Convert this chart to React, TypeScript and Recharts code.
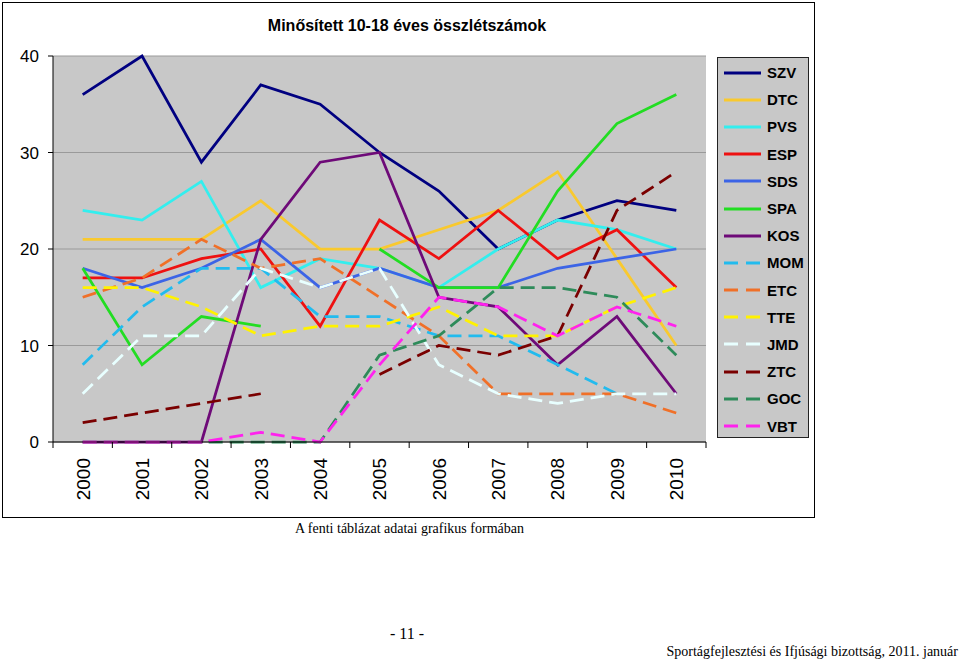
import React from "react";
import { LineChart, Line, XAxis, YAxis, CartesianGrid } from "recharts";

const years = ["2000", "2001", "2002", "2003", "2004", "2005", "2006", "2007", "2008", "2009", "2010"];
const yTicks = [0, 10, 20, 30, 40];

const szv = [36, 40, 29, 37, 35, 30, 26, 20, 23, 25, 24];
const dtc = [21, 21, 21, 25, 20, 20, 22, 24, 28, 19, 10];
const pvs = [24, 23, 27, 16, 19, 18, 16, 20, 23, 22, 20];
const esp = [17, 17, 19, 20, 12, 23, 19, 24, 19, 22, 16];
const sds = [18, 16, 18, 21, 16, 18, 16, 16, 18, 19, 20];
const spa = [18, 8, 13, 12, null, 20, 16, 16, 26, 33, 36];
const kos = [0, 0, 0, 21, 29, 30, 15, 14, 8, 13, 5];
const mom = [8, 14, 18, 18, 13, 13, 11, 11, 8, 5, null];
const etc = [15, 17, 21, 18, 19, 15, 11, 5, 5, 5, 3];
const tte = [16, 16, 14, 11, 12, 12, 14, 11, 11, 14, 16];
const jmd = [5, 11, 11, 18, 16, 18, 8, 5, 4, 5, 5];
const ztc = [2, 3, 4, 5, null, 7, 10, 9, 11, 24, 28];
const goc = [0, 0, 0, 0, 0, 9, 11, 16, 16, 15, 9];
const vbt = [0, 0, 0, 1, 0, 8, 15, 14, 11, 14, 12];

const series = [
  { key: "SZV", values: szv, color: "#000080", dashed: false },
  { key: "DTC", values: dtc, color: "#F9C92E", dashed: false },
  { key: "PVS", values: pvs, color: "#33EEEE", dashed: false },
  { key: "ESP", values: esp, color: "#EE1111", dashed: false },
  { key: "SDS", values: sds, color: "#3C64E6", dashed: false },
  { key: "SPA", values: spa, color: "#22DD22", dashed: false },
  { key: "KOS", values: kos, color: "#6E0A78", dashed: false },
  { key: "MOM", values: mom, color: "#22BBEE", dashed: true },
  { key: "ETC", values: etc, color: "#F07028", dashed: true },
  { key: "TTE", values: tte, color: "#FFF200", dashed: true },
  { key: "JMD", values: jmd, color: "#E8FFFF", dashed: true },
  { key: "ZTC", values: ztc, color: "#7A0000", dashed: true },
  { key: "GOC", values: goc, color: "#2E8B5A", dashed: true },
  { key: "VBT", values: vbt, color: "#FF22EE", dashed: true },
];

const data = years.map((year, i) => {
  const row: Record<string, string | number | null> = { year };
  series.forEach((s) => {
    row[s.key] = s.values[i];
  });
  return row;
});

const CHART_W = 810;
const CHART_H = 513;
const margin = { top: 53, right: 107, left: 10, bottom: 10 };
const Y_W = 40;
const X_H = 64;
const BAND = (CHART_W - margin.left - Y_W - margin.right) / years.length;

const sans = "'Liberation Sans', Arial, sans-serif";
const serif = "'Liberation Serif', 'Times New Roman', serif";

function YearTick(props: any) {
  const { x, y, payload, index } = props;
  const half = BAND / 2;
  return (
    <g>
      <line x1={x - half} x2={x - half} y1={y} y2={y + 6} stroke="#000" strokeWidth={1} />
      {index === years.length - 1 && (
        <line x1={x + half} x2={x + half} y1={y} y2={y + 6} stroke="#000" strokeWidth={1} />
      )}
      <g transform={`translate(${x},${y + 16}) rotate(-90)`}>
        <text textAnchor="end" dy="0.36em" fontSize={19} fill="#000" fontFamily={sans}>
          {payload.value}
        </text>
      </g>
    </g>
  );
}

function ChartLegend() {
  return (
    <div
      style={{
        position: "absolute",
        left: 714,
        top: 54,
        width: 92,
        height: 381,
        boxSizing: "border-box",
        border: "1px solid #222",
        background: "#C8C8C8",
        paddingTop: 1,
      }}
    >
      {series.map((s) => (
        <div key={s.key} style={{ height: 27.2, display: "flex", alignItems: "center" }}>
          <svg width={37} height={6} style={{ marginLeft: 6, marginRight: 6 }}>
            <line
              x1={0}
              x2={37}
              y1={3}
              y2={3}
              stroke={s.color}
              strokeWidth={3}
              strokeDasharray={s.dashed ? "14 8" : undefined}
            />
          </svg>
          <span style={{ fontFamily: sans, fontWeight: "bold", fontSize: 15, color: "#000" }}>{s.key}</span>
        </div>
      ))}
    </div>
  );
}

export default function App() {
  return (
    <div style={{ position: "absolute", left: 0, top: 0, width: 960, height: 661, background: "#fff" }}>
      <div
        style={{
          position: "absolute",
          left: 2,
          top: 2,
          width: 813,
          height: 516,
          boxSizing: "border-box",
          border: "1px solid #000",
        }}
      >
        <div
          style={{
            position: "absolute",
            left: 0,
            top: 14,
            width: 810,
            textAlign: "center",
            fontFamily: sans,
            fontWeight: "bold",
            fontSize: 16,
            color: "#000",
          }}
        >
          <span style={{ position: "relative", left: -1 }}>Minősített 10-18 éves összlétszámok</span>
        </div>
        <div style={{ position: "absolute", left: 0, top: 0 }}>
          <LineChart width={CHART_W} height={CHART_H} data={data} margin={margin}>
            <CartesianGrid vertical={false} fill="#C8C8C8" stroke="#9A9A9A" strokeWidth={1} />
            <XAxis
              dataKey="year"
              height={X_H}
              interval={0}
              padding={{ left: BAND / 2, right: BAND / 2 }}
              tickLine={false}
              tickSize={0}
              tickMargin={0}
              axisLine={{ stroke: "#000" }}
              tick={<YearTick />}
            />
            <YAxis
              width={Y_W}
              domain={[0, 40]}
              ticks={yTicks}
              interval={0}
              tickSize={5}
              tickMargin={9}
              axisLine={{ stroke: "#000" }}
              tickLine={{ stroke: "#000" }}
              tick={{ fill: "#000", fontSize: 17, fontFamily: sans }}
            />
            {series.map((s) => (
              <Line
                key={s.key}
                type="linear"
                dataKey={s.key}
                stroke={s.color}
                strokeWidth={2.75}
                strokeDasharray={s.dashed ? "14 7" : undefined}
                dot={false}
                activeDot={false}
                isAnimationActive={false}
              />
            ))}
          </LineChart>
        </div>
        <ChartLegend />
      </div>
      <div style={{ position: "absolute", left: 295, top: 521, fontFamily: serif, fontSize: 14, color: "#000" }}>
        A fenti táblázat adatai grafikus formában
      </div>
      <div style={{ position: "absolute", left: 390, top: 625, fontFamily: serif, fontSize: 16, color: "#000" }}>
        - 11 -
      </div>
      <div
        style={{
          position: "absolute",
          right: 2,
          top: 644,
          fontFamily: serif,
          fontSize: 14,
          color: "#000",
          whiteSpace: "nowrap",
        }}
      >
        Sportágfejlesztési és Ifjúsági bizottság, 2011. január
      </div>
    </div>
  );
}
